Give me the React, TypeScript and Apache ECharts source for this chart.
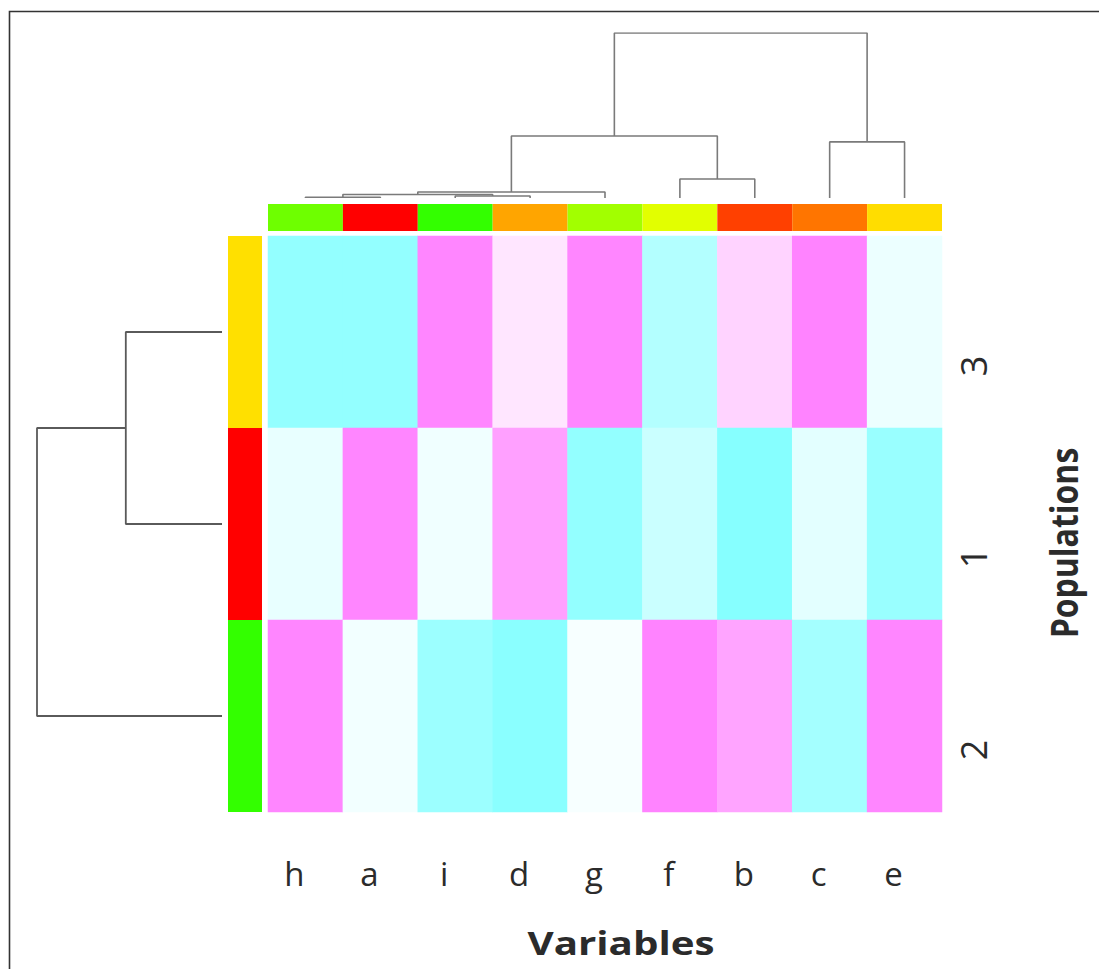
import React, { useEffect, useRef } from "react";
import * as echarts from "echarts";

// ---- data ----
const variables = ["h", "a", "i", "d", "g", "f", "b", "c", "e"];
const populations = ["3", "1", "2"];

// standardized values per population row (top to bottom: 3, 1, 2), columns in variables order
const row3 = [-0.85, -0.85, 0.95, 0.2, 0.95, -0.6, 0.35, 0.98, -0.15];
const row1 = [-0.18, 0.95, -0.12, 0.75, -0.85, -0.42, -0.95, -0.22, -0.8];
const row2 = [0.95, -0.1, -0.78, -0.92, -0.06, 0.98, 0.72, -0.72, 0.95];
const rows = [row3, row1, row2];

const variableColors = ["#6EFF00", "#FF0000", "#33FF00", "#FFA500", "#A2FF00", "#E2FF00", "#FF4000", "#FF7500", "#FFDD00"];
const populationColors = ["#FFE000", "#FF0000", "#33FF00"];

// merges like R hclust: negative = leaf (1-based), positive = earlier merge (1-based); [left, right, height]
const variableMerges = [
  [-1, -2, 0.5],
  [-3, -4, 1.2],
  [1, 2, 2.1],
  [3, -5, 3.6],
  [-6, -7, 11.5],
  [4, 5, 37.6],
  [-8, -9, 34],
  [6, 7, 100],
];
const populationMerges = [
  [-1, -2, 52],
  [1, -3, 100],
];

function dendroLinks(merges: number[][]) {
  const pos: number[] = [];
  const hgt: number[] = [];
  const node = (ref: number) => (ref < 0 ? [-ref - 1, 0] : [pos[ref - 1], hgt[ref - 1]]);
  const links: number[][][] = [];
  merges.forEach(([l, r, h]) => {
    const [lp, lh] = node(l);
    const [rp, rh] = node(r);
    links.push([
      [lp, lh],
      [lp, h],
      [rp, h],
      [rp, rh],
    ]);
    pos.push((lp + rp) / 2);
    hgt.push(h);
  });
  return links;
}

export default function App() {
  const ref = useRef<HTMLDivElement>(null);
  useEffect(() => {
    if (!ref.current) return;
    const chart = echarts.init(ref.current, undefined, { renderer: "svg" });

    const heatData: number[][] = [];
    rows.forEach((r, yi) => r.forEach((v, xi) => heatData.push([xi, yi, v])));

    const topLinks = dendroLinks(variableMerges);
    const leftLinks = dendroLinks(populationMerges);

    const series: any[] = [
      {
        type: "heatmap",
        xAxisIndex: 0,
        yAxisIndex: 0,
        data: heatData,
        silent: true,
      },
      {
        type: "bar",
        xAxisIndex: 1,
        yAxisIndex: 1,
        barWidth: "100%",
        silent: true,
        data: variableColors.map((c) => ({ value: 1, itemStyle: { color: c } })),
      },
      {
        type: "bar",
        xAxisIndex: 2,
        yAxisIndex: 2,
        barWidth: "100%",
        silent: true,
        data: populationColors.map((c) => ({ value: 1, itemStyle: { color: c } })),
      },
    ];
    topLinks.forEach((pts) =>
      series.push({
        type: "line",
        xAxisIndex: 3,
        yAxisIndex: 3,
        data: pts,
        symbol: "none",
        silent: true,
        lineStyle: { color: "#7a7a7a", width: 1.6 },
      })
    );
    leftLinks.forEach((pts) =>
      series.push({
        type: "line",
        xAxisIndex: 4,
        yAxisIndex: 4,
        data: pts.map(([p, h]) => [h, p]),
        symbol: "none",
        silent: true,
        lineStyle: { color: "#5a5a5a", width: 1.8 },
      })
    );

    const hidden = { show: false };
    const labelFont = { fontFamily: "Open Sans", color: "#2b2b2b" };

    chart.setOption({
      animation: false,
      backgroundColor: "#ffffff",
      grid: [
        { left: 268, top: 236, width: 674, height: 576 },
        { left: 268, top: 204, width: 674, height: 27 },
        { left: 228, top: 236, width: 34, height: 576 },
        { left: 268, top: 33, width: 674, height: 165 },
        { left: 37, top: 236, width: 185, height: 576 },
        { left: 257, top: 270, width: 674, height: 576 },
      ],
      xAxis: [
        { type: "category", gridIndex: 0, data: variables, ...hidden },
        { type: "category", gridIndex: 1, data: variables, ...hidden },
        { type: "value", gridIndex: 2, min: 0, max: 1, ...hidden },
        { type: "value", gridIndex: 3, min: -0.5, max: 8.5, ...hidden },
        { type: "value", gridIndex: 4, min: 0, max: 100, inverse: true, ...hidden },
        {
          type: "category",
          gridIndex: 5,
          data: variables,
          axisLine: { show: false },
          axisTick: { show: false },
          splitLine: { show: false },
          axisLabel: { ...labelFont, fontSize: 33, margin: 11 },
        },
      ],
      yAxis: [
        { type: "category", gridIndex: 0, data: populations, inverse: true, ...hidden },
        { type: "value", gridIndex: 1, min: 0, max: 1, ...hidden },
        { type: "category", gridIndex: 2, data: populations, inverse: true, ...hidden },
        { type: "value", gridIndex: 3, min: 0, max: 100, ...hidden },
        { type: "value", gridIndex: 4, min: -0.5, max: 2.5, inverse: true, ...hidden },
        {
          type: "category",
          gridIndex: 5,
          data: populations,
          inverse: true,
          position: "right",
          axisLine: { show: false },
          axisTick: { show: false },
          splitLine: { show: false },
          axisLabel: { ...labelFont, fontSize: 36, rotate: 90, margin: 24 },
        },
      ],
      visualMap: {
        type: "continuous",
        show: false,
        seriesIndex: 0,
        min: -1,
        max: 1,
        inRange: { color: ["#80FFFF", "#FFFFFF", "#FF80FF"] },
      },
      graphic: [
        {
          type: "polyline",
          shape: { points: [[9.5, 969], [9.5, 11.5], [1099, 11.5]] },
          style: { stroke: "#333333", lineWidth: 1.6, fill: "none" },
          silent: true,
        },
        {
          type: "text",
          x: 621,
          y: 943,
          scaleX: 1.26,
          style: {
            text: "Variables",
            fontFamily: "Open Sans",
            fontWeight: "bold",
            fontSize: 32,
            fill: "#2b2b2b",
            align: "center",
            verticalAlign: "middle",
          },
          silent: true,
        },
        {
          type: "text",
          x: 1063,
          y: 543,
          rotation: Math.PI / 2,
          scaleY: 1.2,
          style: {
            text: "Populations",
            fontFamily: "Open Sans",
            fontWeight: "bold",
            fontSize: 32,
            fill: "#2b2b2b",
            align: "center",
            verticalAlign: "middle",
          },
          silent: true,
        },
      ],
      series,
    });

    return () => chart.dispose();
  }, []);

  return (
    <div
      ref={ref}
      style={{ position: "fixed", left: 0, top: 0, width: 1099, height: 969, background: "#ffffff" }}
    />
  );
}
